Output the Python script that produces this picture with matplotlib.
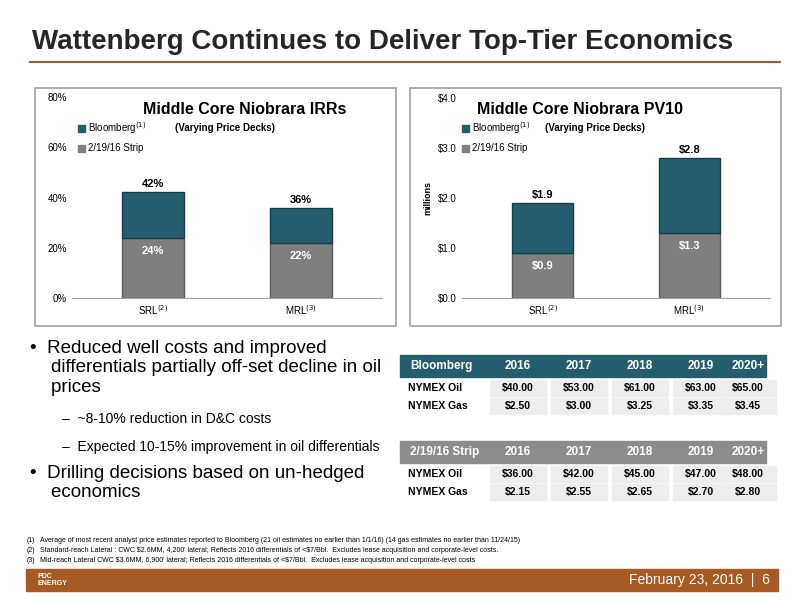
import matplotlib.pyplot as plt
from matplotlib.patches import Rectangle

plt.rcParams["font.family"] = ["Liberation Sans", "DejaVu Sans"]

# chart data
irr_cats = ["SRL", "MRL"]
irr_strip = [24, 22]
irr_bloomberg = [42, 36]
pv_cats = ["SRL", "MRL"]
pv_strip = [0.9, 1.3]
pv_bloomberg = [1.9, 2.8]

years = ["2016", "2017", "2018", "2019", "2020+"]
bb_oil = ["$40.00", "$53.00", "$61.00", "$63.00", "$65.00"]
bb_gas = ["$2.50", "$3.00", "$3.25", "$3.35", "$3.45"]
st_oil = ["$36.00", "$42.00", "$45.00", "$47.00", "$48.00"]
st_gas = ["$2.15", "$2.55", "$2.65", "$2.70", "$2.80"]

TEAL = "#245E6E"
GRAY = "#7F7F7F"
ORANGE = "#A65A24"
W, H = 800, 600

fig = plt.figure(figsize=(8, 6), dpi=100)
fig.patch.set_facecolor("white")


def fx(x):
    return x / W


def fy(y):
    return 1 - y / H


def ftext(x, y, s, **kw):
    fig.text(fx(x), fy(y), s, **kw)


# title + rule
ftext(32, 42, "Wattenberg Continues to Deliver Top-Tier Economics",
      fontsize=20, weight="bold", color="#262626", va="center")
fig.add_artist(plt.Line2D([fx(30), fx(780)], [fy(62), fy(62)], color=ORANGE, lw=1.5))

# chart frames
for x0, x1 in [(35, 396), (410, 781)]:
    fig.add_artist(Rectangle((fx(x0), fy(326)), fx(x1 - x0), (326 - 88) / H,
                             fill=False, ec="#A0A0A0", lw=1.2, transform=fig.transFigure))


def bar_chart(rect, cats, strip, total, ymax, step, fmt, lab_fmt, ylabel=None):
    ax = fig.add_axes(rect)
    x = [0, 1]
    top = [t - s for t, s in zip(total, strip)]
    ax.bar(x, strip, width=0.42, color=GRAY, edgecolor="#5A5A5A", lw=1, label="2/19/16 Strip")
    ax.bar(x, top, bottom=strip, width=0.42, color=TEAL, edgecolor="#163E48", lw=1,
           label="Bloomberg")
    for i in x:
        ax.text(i, strip[i] - ymax * 0.04, lab_fmt(strip[i]), ha="center", va="top",
                color="white", fontsize=8, weight="bold")
        ax.text(i, total[i] + ymax * 0.015, lab_fmt(total[i]), ha="center", va="bottom",
                color="black", fontsize=8, weight="bold")
    ax.set_xlim(-0.55, 1.55)
    ax.set_ylim(0, ymax)
    ticks = [i * step for i in range(int(round(ymax / step)) + 1)]
    ax.set_yticks(ticks)
    ax.set_yticklabels([fmt(t) for t in ticks], fontsize=7)
    ax.set_xticks(x)
    ax.set_xticklabels([c + "$^{(%d)}$" % (i + 2) for i, c in enumerate(cats)], fontsize=7)
    for s in ["top", "right", "left"]:
        ax.spines[s].set_visible(False)
    ax.spines["bottom"].set_color("#A0A0A0")
    ax.tick_params(length=0)
    if ylabel:
        ax.set_ylabel(ylabel, fontsize=6.5, weight="bold")
    return ax


ax1 = bar_chart([fx(72), fy(298), fx(310), (298 - 97) / H], irr_cats, irr_strip,
                irr_bloomberg, 80, 20, lambda t: f"{t:.0f}%", lambda v: f"{v:.0f}%")
ax2 = bar_chart([fx(462), fy(298), fx(308), (298 - 98) / H], pv_cats, pv_strip,
                pv_bloomberg, 4.0, 1.0, lambda t: f"${t:.1f}", lambda v: f"${v:.1f}",
                ylabel="millions")

# chart titles and legends
for cx, title, sx in [(245, "Middle Core Niobrara IRRs", 175),
                      (580, "Middle Core Niobrara PV10", 545)]:
    ftext(cx, 109, title, fontsize=11.5, weight="bold", ha="center", va="center")
    ftext(sx, 128, "(Varying Price Decks)", fontsize=7, weight="bold", va="center")
for lx, y0 in [(78, 128), (462, 128)]:
    fig.add_artist(Rectangle((fx(lx), fy(y0 + 4)), fx(7), 7 / H, color=TEAL,
                             transform=fig.transFigure))
    ftext(lx + 10, y0, r"Bloomberg$^{(1)}$", fontsize=7, va="center")
    fig.add_artist(Rectangle((fx(lx), fy(y0 + 24)), fx(7), 7 / H, color=GRAY,
                             transform=fig.transFigure))
    ftext(lx + 10, y0 + 20, "2/19/16 Strip", fontsize=7, va="center")

# bullets
ftext(30, 368, "•  Reduced well costs and improved\n    differentials partially off-set decline in oil\n    prices",
      fontsize=13.5, va="center", linespacing=1.2)
ftext(62, 419, "–  ~8-10% reduction in D&C costs", fontsize=10, va="center")
ftext(62, 447, "–  Expected 10-15% improvement in oil differentials", fontsize=10, va="center")
ftext(30, 483, "•  Drilling decisions based on un-hedged\n    economics", fontsize=13.5,
      va="center", linespacing=1.2)

# tables
col_x = [518, 579, 640, 701, 748]


def table(y0, head, head_color, oil, gas):
    fig.add_artist(Rectangle((fx(400), fy(y0 + 22)), fx(366), 22 / H, color=head_color,
                             transform=fig.transFigure))
    ftext(410, y0 + 11, head, fontsize=8.5, weight="bold", color="white", va="center")
    for cx, yr in zip(col_x, years):
        ftext(cx, y0 + 11, yr, fontsize=8.5, weight="bold", color="white",
              ha="center", va="center")
    for r, (name, vals) in enumerate([("NYMEX Oil", oil), ("NYMEX Gas", gas)]):
        yc = y0 + 33 + r * 18
        ftext(408, yc, name, fontsize=7.5, weight="bold", va="center")
        for cx, v in zip(col_x, vals):
            fig.add_artist(Rectangle((fx(cx - 28), fy(yc + 8)), fx(56), 16 / H,
                                     color="#EDEDED", transform=fig.transFigure))
            ftext(cx, yc, v, fontsize=7.5, weight="bold", ha="center", va="center")


table(355, "Bloomberg", TEAL, bb_oil, bb_gas)
table(441, "2/19/16 Strip", "#8C8C8C", st_oil, st_gas)

# footnotes
notes = [
    "Average of most recent analyst price estimates reported to Bloomberg (21 oil estimates no earlier than 1/1/16) (14 gas estimates no earlier than 11/24/15)",
    "Standard-reach Lateral : CWC \\$2.6MM, 4,200' lateral; Reflects 2016 differentials of <\\$7/Bbl.  Excludes lease acquisition and corporate-level costs.",
    "Mid-reach Lateral CWC \\$3.6MM, 6,900' lateral; Reflects 2016 differentials of <\\$7/Bbl.  Excludes lease acquisition and corporate-level costs",
]
for i, n in enumerate(notes):
    ftext(27, 541 + i * 10, f"({i + 1})", fontsize=5, va="center")
    ftext(40, 541 + i * 10, n, fontsize=5, va="center")

# footer bar
fig.add_artist(Rectangle((fx(26), fy(591)), fx(752), 22 / H, color=ORANGE,
                         transform=fig.transFigure))
ftext(38, 580, "PDC\nENERGY", fontsize=5, color="white", weight="bold", va="center",
      linespacing=0.9)
ftext(770, 580, "February 23, 2016  |  6", fontsize=10, color="white", ha="right", va="center")

fig.savefig("out.png", dpi=100)
